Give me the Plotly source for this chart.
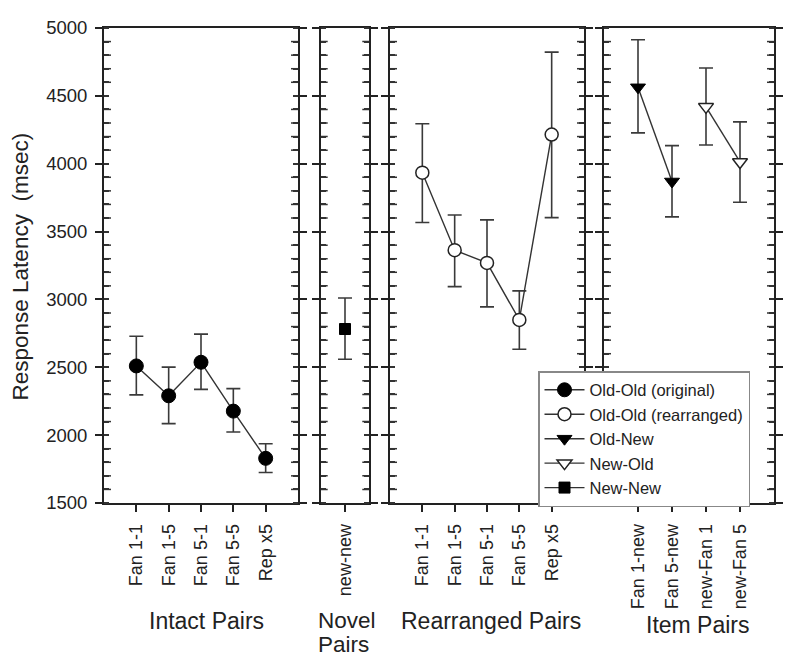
import plotly.graph_objects as go

# ---------------- data ----------------
intact_cats = ["Fan 1-1", "Fan 1-5", "Fan 5-1", "Fan 5-5", "Rep x5"]
intact_mean = [2510, 2290, 2537, 2177, 1829]
intact_hi = [2729, 2501, 2744, 2343, 1937]
intact_lo = [2297, 2085, 2337, 2023, 1725]

novel_cats = ["new-new"]
novel_mean = [2782]
novel_hi = [3010]
novel_lo = [2559]

rearr_cats = ["Fan 1-1", "Fan 1-5", "Fan 5-1", "Fan 5-5", "Rep x5"]
rearr_mean = [3934, 3363, 3269, 2849, 4215]
rearr_hi = [4294, 3622, 3586, 3063, 4822]
rearr_lo = [3567, 3094, 2945, 2633, 3603]

item_cats = ["Fan 1-new", "Fan 5-new", "new-Fan 1", "new-Fan 5"]
oldnew_cats = ["Fan 1-new", "Fan 5-new"]
oldnew_mean = [4563, 3869]
oldnew_hi = [4913, 4133]
oldnew_lo = [4227, 3608]
newold_cats = ["new-Fan 1", "new-Fan 5"]
newold_mean = [4419, 4013]
newold_hi = [4705, 4308]
newold_lo = [4138, 3716]

panel_titles = ["Intact Pairs", "Novel", "Pairs", "Rearranged Pairs", "Item Pairs"]
y_title = "Response Latency  (msec)"

FONT = "Liberation Sans, Arial, sans-serif"
INK = "#222222"
BAR = "#3a3a3a"


def err(mean, hi, lo):
    return dict(type="data", symmetric=False,
                array=[h - m for h, m in zip(hi, mean)],
                arrayminus=[m - l for m, l in zip(mean, lo)],
                color=BAR, thickness=1.6, width=7)


fig = go.Figure()

fig.add_trace(go.Scatter(
    x=intact_cats, y=intact_mean, mode="lines+markers", name="Old-Old (original)",
    xaxis="x", yaxis="y",
    line=dict(color="#333", width=1.4),
    marker=dict(symbol="circle", size=14, color="black", line=dict(color="black", width=1)),
    error_y=err(intact_mean, intact_hi, intact_lo)))

fig.add_trace(go.Scatter(
    x=rearr_cats, y=rearr_mean, mode="lines+markers", name="Old-Old (rearranged)",
    xaxis="x3", yaxis="y3",
    line=dict(color="#333", width=1.4),
    marker=dict(symbol="circle", size=13, color="white", line=dict(color="#222", width=1.5)),
    error_y=err(rearr_mean, rearr_hi, rearr_lo)))

fig.add_trace(go.Scatter(
    x=oldnew_cats, y=oldnew_mean, mode="lines+markers", name="Old-New",
    xaxis="x4", yaxis="y4",
    line=dict(color="#333", width=1.4),
    marker=dict(symbol="triangle-down", size=13, color="black", line=dict(color="black", width=1)),
    error_y=err(oldnew_mean, oldnew_hi, oldnew_lo)))

fig.add_trace(go.Scatter(
    x=newold_cats, y=newold_mean, mode="lines+markers", name="New-Old",
    xaxis="x4", yaxis="y4",
    line=dict(color="#333", width=1.4),
    marker=dict(symbol="triangle-down", size=13, color="white", line=dict(color="#222", width=1.5)),
    error_y=err(newold_mean, newold_hi, newold_lo)))

fig.add_trace(go.Scatter(
    x=novel_cats, y=novel_mean, mode="lines+markers", name="New-New",
    xaxis="x2", yaxis="y2",
    line=dict(color="#333", width=1.4),
    marker=dict(symbol="square", size=11, color="black", line=dict(color="black", width=1)),
    error_y=err(novel_mean, novel_hi, novel_lo)))

cat_lists = [intact_cats, novel_cats, rearr_cats, item_cats]
minor_vals = [v for v in range(1500, 5001, 100) if v % 500]

# minor ticks: short dashes centred on each panel edge, clipped to the plot
# area so only the inner half shows (drawn on hidden overlay x axes 0..1)
for i in range(4):
    yid = "y" if i == 0 else f"y{i+1}"
    fig.add_trace(go.Scatter(
        x=[0] * len(minor_vals) + [1] * len(minor_vals), y=minor_vals + minor_vals,
        xaxis=f"x{i+5}", yaxis=yid, mode="markers", showlegend=False,
        hoverinfo="skip", cliponaxis=True,
        marker=dict(symbol="line-ew", size=10, line=dict(color="#333", width=1.5))))

# ---------------- layout ----------------
# target positions in page pixels; page body has an 8px margin
OFF = 8
FW, FH = 800 - OFF, 667 - OFF
L, R, T, B = 104, 774, 17, 503      # plot area in page pixels
W = R - L
H = B - T


def px2dom(a, b):
    return [(a - L) / W, (b - L) / W]


def px2py(y):
    return (B - y) / H


domains = [px2dom(104, 298), px2dom(320.7, 369.3), px2dom(390, 584), px2dom(604, 774)]

layout = dict(
    width=FW, height=FH,
    margin=dict(l=L - OFF, r=FW - (R - OFF), t=T - OFF, b=FH - (B - OFF), pad=0),
    paper_bgcolor="white", plot_bgcolor="white",
    font=dict(family=FONT, color=INK, size=17),
    showlegend=True,
    legend=dict(x=(538 - L) / W, y=px2py(368), xanchor="left", yanchor="top",
                bgcolor="white", bordercolor="#888", borderwidth=1.5,
                font=dict(family=FONT, size=16.5, color=INK),
                tracegroupgap=0, itemwidth=40),
)

for i in range(4):
    xs = "xaxis" if i == 0 else f"xaxis{i+1}"
    ys = "yaxis" if i == 0 else f"yaxis{i+1}"
    yid = "y" if i == 0 else f"y{i+1}"
    xid = "x" if i == 0 else f"x{i+1}"
    cats = cat_lists[i]
    layout[xs] = dict(
        domain=domains[i], anchor=yid, type="category",
        categoryorder="array", categoryarray=cats,
        range=[-1, len(cats)],
        showline=True, linecolor="#222", linewidth=1.8, mirror=True,
        ticks="outside", ticklen=7, tickwidth=1.6, tickcolor="#222",
        ticklabelstandoff=5,
        tickangle=-90, tickfont=dict(size=18, family=FONT, color=INK),
        showgrid=False, zeroline=False,
    )
    layout[f"xaxis{i+5}"] = dict(
        overlaying=xid, anchor=yid, domain=domains[i], range=[0, 1],
        visible=False, showgrid=False, zeroline=False,
    )
    layout[ys] = dict(
        domain=[0, 1], anchor=xid, range=[1500, 5000],
        tickmode="linear", tick0=1500, dtick=500,
        showline=True, linecolor="#222", linewidth=1.8, mirror="ticks",
        ticks="outside", ticklen=7, tickwidth=1.6, tickcolor="#222",
        minor=dict(ticks="inside", tickmode="linear", tick0=1500, dtick=100,
                   ticklen=5, tickwidth=1.5, tickcolor="#333", showgrid=False),
        ticklabelstandoff=4,
        showticklabels=(i == 0),
        tickfont=dict(size=18.5, family=FONT, color=INK),
        showgrid=False, zeroline=False,
    )

fig.update_layout(**layout)

annots = [
    dict(text=y_title, x=(20 - L) / W, y=px2py(261), textangle=-90, size=22.5, xanchor="center"),
    dict(text=panel_titles[0], x=(206 - L) / W, y=px2py(624), size=23, xanchor="center"),
    dict(text=panel_titles[1], x=(316 - L) / W, y=px2py(623), size=22.5, xanchor="left"),
    dict(text=panel_titles[2], x=(316 - L) / W, y=px2py(648), size=22.5, xanchor="left"),
    dict(text=panel_titles[3], x=(491 - L) / W, y=px2py(624), size=23, xanchor="center"),
    dict(text=panel_titles[4], x=(698 - L) / W, y=px2py(628), size=23, xanchor="center"),
]
for a in annots:
    fig.add_annotation(text=a["text"], x=a["x"], y=a["y"], xref="paper", yref="paper",
                       textangle=a.get("textangle", 0), showarrow=False,
                       xanchor=a["xanchor"], yanchor="middle", align="left",
                       font=dict(family=FONT, size=a["size"], color=INK))

fig.write_html("out.html")
